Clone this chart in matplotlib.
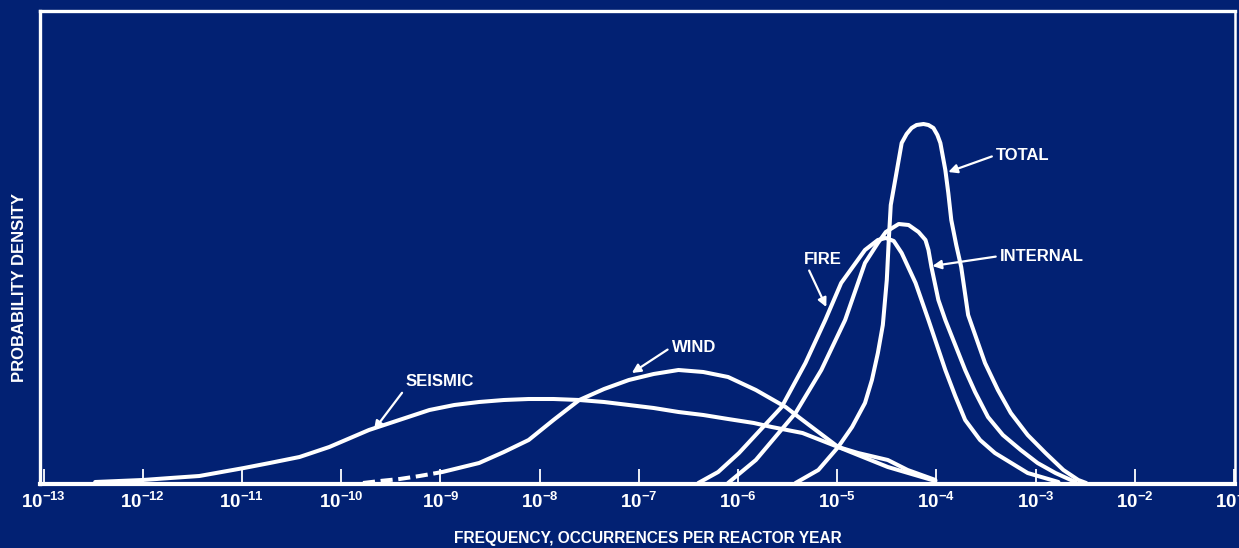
import numpy as np
import matplotlib
matplotlib.use('Agg')
import matplotlib.pyplot as plt
from matplotlib.ticker import FixedLocator, NullLocator

# core-melt frequency distributions: log10(occurrences per reactor year) vs. relative density
seismic_logf = [-12.48, -12.0, -11.72, -11.43, -10.98, -10.72, -10.42, -10.12, -9.72, -9.11,
                -8.86, -8.61, -8.36, -8.11, -7.86, -7.60, -7.35, -7.10, -6.85, -6.60,
                -6.35, -6.10, -5.84, -5.66, -5.35, -4.99, -4.79, -4.49, -4.29, -4.01]
seismic_dens = [0.02, 0.04, 0.06, 0.08, 0.16, 0.21, 0.27, 0.37, 0.54, 0.74,
                0.79, 0.82, 0.84, 0.85, 0.85, 0.84, 0.82, 0.79, 0.76, 0.72,
                0.69, 0.65, 0.61, 0.57, 0.51, 0.37, 0.31, 0.24, 0.14, 0.04]

# lower tail of the wind curve is only estimated (dashed)
wind_tail_logf = [-9.78, -9.61, -9.41, -9.21, -8.98]
wind_tail_dens = [0.01, 0.03, 0.05, 0.08, 0.12]
wind_logf = [-8.98, -8.61, -8.36, -8.11, -7.86, -7.60, -7.35, -7.10, -6.85, -6.60,
             -6.35, -6.10, -5.82, -5.52, -5.39, -4.99, -4.49, -4.01]
wind_dens = [0.12, 0.21, 0.32, 0.44, 0.64, 0.84, 0.95, 1.04, 1.10, 1.14,
             1.12, 1.07, 0.94, 0.77, 0.67, 0.37, 0.17, 0.03]

fire_logf = [-6.40, -6.20, -5.99, -5.56, -5.32, -5.12, -4.96, -4.72, -4.59, -4.51,
             -4.43, -4.35, -4.21, -4.08, -3.91, -3.81, -3.71, -3.56, -3.41, -3.08, -2.77]
fire_dens = [0.01, 0.12, 0.31, 0.77, 1.21, 1.64, 2.01, 2.34, 2.44, 2.46,
             2.43, 2.31, 2.01, 1.64, 1.14, 0.88, 0.64, 0.44, 0.31, 0.11, 0.02]

internal_logf = [-6.10, -5.82, -5.42, -5.16, -4.92, -4.72, -4.59, -4.51, -4.38, -4.28,
                 -4.18, -4.11, -4.08, -4.05, -3.98, -3.91, -3.71, -3.61, -3.48, -3.33,
                 -3.15, -2.98, -2.80, -2.60]
internal_dens = [0.01, 0.24, 0.71, 1.14, 1.64, 2.21, 2.41, 2.52, 2.60, 2.59,
                 2.52, 2.44, 2.34, 2.17, 1.84, 1.64, 1.14, 0.92, 0.67, 0.49,
                 0.34, 0.21, 0.11, 0.02]

total_logf = [-5.42, -5.19, -4.99, -4.85, -4.72, -4.65, -4.59, -4.54, -4.50, -4.48,
              -4.46, -4.41, -4.35, -4.30, -4.25, -4.20, -4.13, -4.08, -4.03, -3.99,
              -3.96, -3.91, -3.88, -3.85, -3.80, -3.75, -3.68, -3.51, -3.38, -3.25,
              -3.08, -2.90, -2.72, -2.57, -2.49]
total_dens = [0.01, 0.14, 0.37, 0.57, 0.81, 1.04, 1.31, 1.59, 2.04, 2.44,
              2.79, 3.07, 3.41, 3.50, 3.56, 3.59, 3.60, 3.59, 3.56, 3.49,
              3.41, 3.14, 2.91, 2.64, 2.39, 2.17, 1.69, 1.21, 0.94, 0.71,
              0.49, 0.31, 0.14, 0.04, 0.01]

tick_exponents = list(range(-13, 0))

bg = '#022173'
fg = 'white'
plt.rcParams['font.family'] = ['Liberation Sans', 'DejaVu Sans']
plt.rcParams['mathtext.fontset'] = 'custom'
plt.rcParams['mathtext.rm'] = 'Liberation Sans'
plt.rcParams['mathtext.bf'] = 'Liberation Sans:bold'

fig = plt.figure(figsize=(12.39, 5.48), dpi=100, facecolor=bg)
ax = fig.add_axes([40/1239, 64/548, 1195/1239, 473/548], facecolor=bg)

lw = 2.9
line_kw = dict(color=fg, lw=lw, solid_capstyle='round', solid_joinstyle='round')

def logx(v):
    return 10.0 ** np.asarray(v)

ax.plot(logx(seismic_logf), seismic_dens, **line_kw)
ax.plot(logx(wind_tail_logf), wind_tail_dens, color=fg, lw=lw, dashes=(3, 1.4))
ax.plot(logx(wind_logf), wind_dens, **line_kw)
ax.plot(logx(fire_logf), fire_dens, **line_kw)
ax.plot(logx(internal_logf), internal_dens, **line_kw)
ax.plot(logx(total_logf), total_dens, **line_kw)

ax.set_xscale('log')
ax.set_xlim(10**-13.036, 10**-0.99)
ax.set_ylim(0, 4.73)

ax.xaxis.set_major_locator(FixedLocator([10.0**e for e in tick_exponents]))
ax.xaxis.set_minor_locator(NullLocator())
ax.set_xticklabels([r'$\mathbf{10^{%d}}$' % e for e in tick_exponents])
ax.tick_params(axis='x', direction='in', length=11, width=1.3, color=fg,
               labelcolor=fg, labelsize=13.5, pad=6)
ax.set_yticks([])

for side, w in [('left', 2.4), ('top', 2.4), ('bottom', 3.0), ('right', 1.8)]:
    ax.spines[side].set_color(fg)
    ax.spines[side].set_linewidth(w)

fig.text(648/1239, 1 - 538/548, 'FREQUENCY, OCCURRENCES PER REACTOR YEAR',
         color=fg, fontsize=11.2, fontweight='bold', ha='center', va='center')
fig.text(20/1239, 1 - 287/548, 'PROBABILITY DENSITY', color=fg, fontsize=12,
         fontweight='bold', rotation=90, ha='center', va='center')

# curve labels with leader arrows
arrow_kw = dict(arrowstyle='-|>', color=fg, lw=1.6, mutation_scale=13,
                shrinkA=1, shrinkB=0)
label_kw = dict(color=fg, fontsize=12, fontweight='bold', va='center')

ax.annotate('TOTAL', xy=(10**-3.88, 3.12), xytext=(10**-3.40, 3.29), ha='left',
            arrowprops=dict(relpos=(0, 0.5), **arrow_kw), **label_kw)
ax.annotate('INTERNAL', xy=(10**-4.04, 2.18), xytext=(10**-3.36, 2.28), ha='left',
            arrowprops=dict(relpos=(0, 0.5), **arrow_kw), **label_kw)
ax.annotate('FIRE', xy=(10**-5.11, 1.77), xytext=(10**-5.34, 2.25), ha='left',
            arrowprops=dict(relpos=(0.1, 0), **arrow_kw), **label_kw)
ax.annotate('WIND', xy=(10**-7.07, 1.11), xytext=(10**-6.67, 1.37), ha='left',
            arrowprops=dict(relpos=(0, 0.5), **arrow_kw), **label_kw)
ax.annotate('SEISMIC', xy=(10**-9.67, 0.54), xytext=(10**-9.35, 1.02), ha='left',
            arrowprops=dict(relpos=(0, 0.1), **arrow_kw), **label_kw)

fig.savefig('out.png', dpi=100, facecolor=bg)
